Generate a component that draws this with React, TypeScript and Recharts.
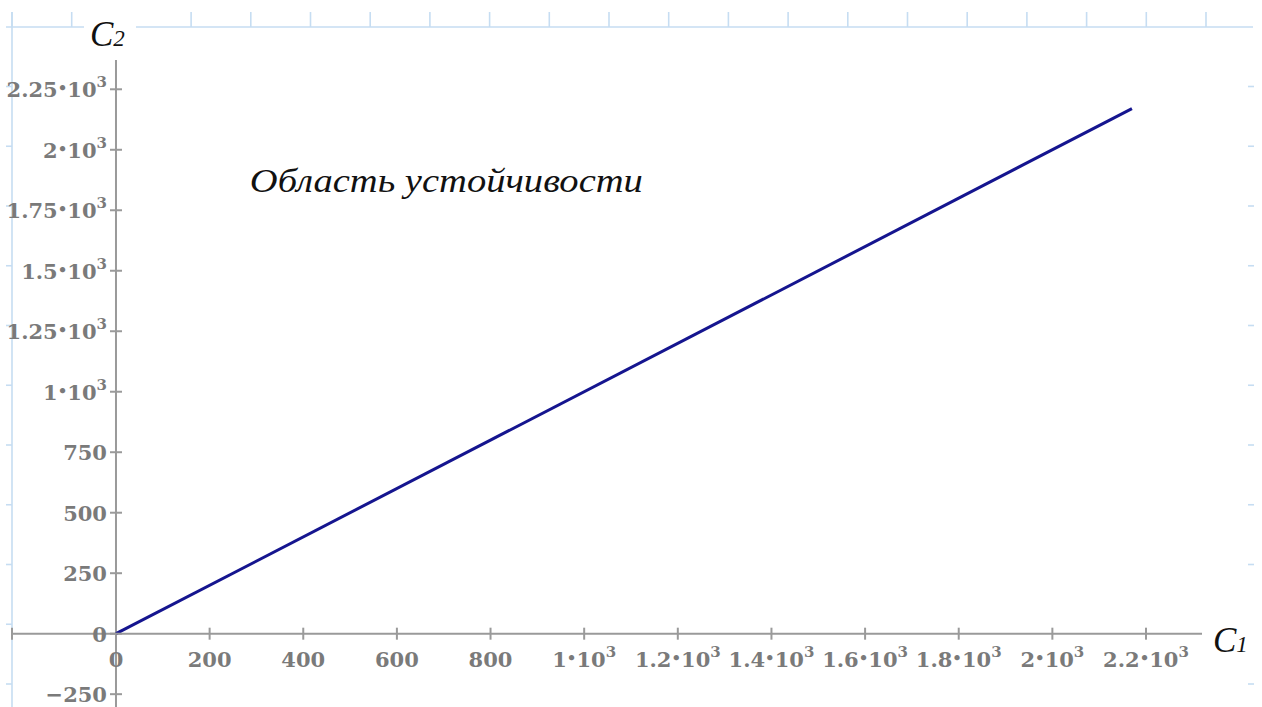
import React from "react";
import { LineChart, Line, XAxis, YAxis, ReferenceLine, ReferenceDot } from "recharts";

// ---- data ----
const C1_VALUES = [0, 2170];
const C2_VALUES = [0, 2170];

const X_TICKS = [200, 400, 600, 800, 1000, 1200, 1400, 1600, 1800, 2000, 2200];
const X_TICK_LABELS = ["200", "400", "600", "800", "1•10^3", "1.2•10^3", "1.4•10^3", "1.6•10^3", "1.8•10^3", "2•10^3", "2.2•10^3"];

const Y_TICKS = [-250, 0, 250, 500, 750, 1000, 1250, 1500, 1750, 2000, 2250];
const Y_TICK_LABELS = ["\u2212250", "0", "250", "500", "750", "1•10^3", "1.25•10^3", "1.5•10^3", "1.75•10^3", "2•10^3", "2.25•10^3"];

const X_DOMAIN: [number, number] = [-222.1, 2319.6];
const Y_DOMAIN: [number, number] = [-303, 2371];

const REGION_LABEL = "Область устойчивости";
const REGION_LABEL_AT = { x: 286, y: 1825 };

const data = C1_VALUES.map((c1, i) => ({ c1, c2: C2_VALUES[i] }));

const W = 1262;
const H = 707;

const TICK_COLOR = "#9a9a9a";
const LABEL_COLOR = "#7a7a7a";
const FRAME = "#c6ddf2";
const NUM_FONT = "'DejaVu Serif', serif";
const ITALIC_FONT = "'Liberation Serif', 'Times New Roman', serif";

function MathLabel({ x, y, anchor, text }: { x: number; y: number; anchor: "start" | "middle" | "end"; text: string }) {
  const [mant, exp] = text.split("^");
  const common = { x, y, textAnchor: anchor, fontFamily: NUM_FONT, fontSize: 21, fontWeight: 700, fill: LABEL_COLOR } as any;
  if (!exp) return <text {...common}>{mant}</text>;
  const [a, b] = mant.split("•");
  return (
    <text {...common}>
      <tspan>{a}</tspan>
      <tspan fontSize={15} dy={-4}>•</tspan>
      <tspan dy={4}>{b}</tspan>
      <tspan fontSize={15} dy={-10}>{exp}</tspan>
    </text>
  );
}

function Frame() {
  const topTicks: number[] = [];
  for (let k = 0; k <= 20; k++) topTicks.push(12 + k * 59.7);
  const sideTicks: number[] = [];
  for (let k = 0; k <= 10; k++) sideTicks.push(86.5 + k * 59.75);
  return (
    <svg width={W} height={H} style={{ position: "absolute", left: 0, top: 0 }}>
      <line x1={6} y1={27} x2={84} y2={27} stroke={FRAME} strokeWidth={1.6} />
      <line x1={136} y1={27} x2={1253} y2={27} stroke={FRAME} strokeWidth={1.6} />
      <line x1={12} y1={12} x2={12} y2={H} stroke={FRAME} strokeWidth={1.6} />
      {topTicks
        .filter((t) => t < 84 || t > 136)
        .map((t, i) => (
          <line key={"t" + i} x1={t} y1={12} x2={t} y2={27} stroke={FRAME} strokeWidth={1.6} />
        ))}
      {sideTicks.map((t, i) => (
        <line key={"l" + i} x1={6} y1={t} x2={12} y2={t} stroke={FRAME} strokeWidth={1.6} />
      ))}
      {sideTicks
        .filter((t) => t < 610 || t > 660)
        .map((t, i) => (
          <line key={"r" + i} x1={1248} y1={t} x2={1254} y2={t} stroke={FRAME} strokeWidth={1.6} />
        ))}
    </svg>
  );
}

export default function App() {
  return (
    <div style={{ position: "absolute", left: 0, top: 0, width: W, height: H, background: "#ffffff" }}>
      <Frame />
      <div style={{ position: "absolute", left: 0, top: 0 }}>
        <LineChart width={W} height={H} data={data} margin={{ top: 60, right: 60, bottom: 0, left: 12 }}>
          <XAxis type="number" dataKey="c1" domain={X_DOMAIN} allowDataOverflow hide />
          <YAxis type="number" domain={Y_DOMAIN} allowDataOverflow hide />
          <ReferenceLine y={0} stroke={TICK_COLOR} strokeWidth={2} />
          <ReferenceLine x={0} stroke={TICK_COLOR} strokeWidth={2} />
          <ReferenceDot
            x={X_DOMAIN[0]}
            y={0}
            r={0}
            shape={(p: any) => <line x1={p.cx} y1={p.cy - 6} x2={p.cx} y2={p.cy + 6} stroke={TICK_COLOR} strokeWidth={2} />}
          />
          {X_TICKS.map((v, i) => (
            <ReferenceDot
              key={"x" + v}
              x={v}
              y={0}
              r={0}
              shape={(p: any) => (
                <g>
                  <line x1={p.cx} y1={p.cy - 6} x2={p.cx} y2={p.cy + 6} stroke={TICK_COLOR} strokeWidth={2} />
                  <MathLabel x={p.cx} y={p.cy + 33} anchor="middle" text={X_TICK_LABELS[i]} />
                </g>
              )}
            />
          ))}
          <ReferenceDot
            x={0}
            y={0}
            r={0}
            shape={(p: any) => <MathLabel x={p.cx} y={p.cy + 33} anchor="middle" text="0" />}
          />
          {Y_TICKS.map((v, i) => (
            <ReferenceDot
              key={"y" + v}
              x={0}
              y={v}
              r={0}
              shape={(p: any) => (
                <g>
                  <line x1={p.cx - 6} y1={p.cy} x2={p.cx + 6} y2={p.cy} stroke={TICK_COLOR} strokeWidth={2} />
                  <MathLabel x={p.cx - 9} y={p.cy + 8} anchor="end" text={Y_TICK_LABELS[i]} />
                </g>
              )}
            />
          ))}
          <ReferenceDot
            x={0}
            y={Y_DOMAIN[1]}
            r={0}
            shape={(p: any) => (
              <text x={p.cx - 26} y={p.cy - 14} fontFamily={ITALIC_FONT} fontStyle="italic" fontSize={35} fill="#111">
                C<tspan fontSize={23}>2</tspan>
              </text>
            )}
          />
          <ReferenceDot
            x={X_DOMAIN[1]}
            y={0}
            r={0}
            shape={(p: any) => (
              <text x={p.cx + 11} y={p.cy + 18} fontFamily={ITALIC_FONT} fontStyle="italic" fontSize={35} fill="#111">
                C<tspan fontSize={23}>1</tspan>
              </text>
            )}
          />
          <ReferenceDot
            x={REGION_LABEL_AT.x}
            y={REGION_LABEL_AT.y}
            r={0}
            shape={(p: any) => (
              <text
                x={p.cx}
                y={p.cy}
                fontFamily={ITALIC_FONT}
                fontStyle="italic"
                fontSize={33}
                fill="#111"
                textLength={393}
                lengthAdjust="spacingAndGlyphs"
              >
                {REGION_LABEL}
              </text>
            )}
          />
          <Line
            type="linear"
            dataKey="c2"
            stroke="#15158f"
            strokeWidth={3}
            dot={false}
            activeDot={false}
            isAnimationActive={false}
          />
        </LineChart>
      </div>
    </div>
  );
}
